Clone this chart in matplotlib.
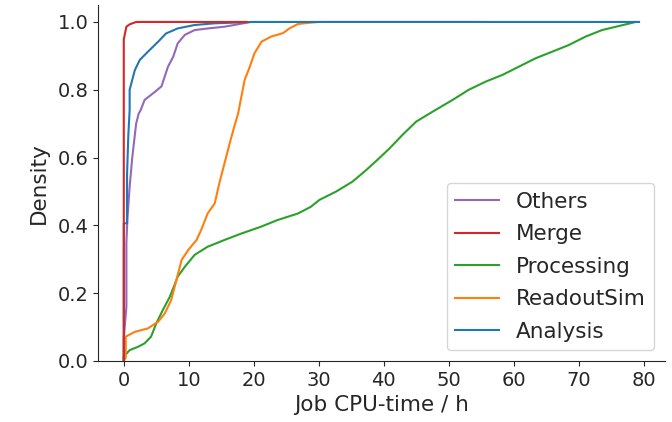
import matplotlib
matplotlib.use('Agg')
import matplotlib.pyplot as plt

# cumulative share of jobs vs. CPU time (hours), per job type
others_x = [0, 0, 0.4, 0.4, 0.56, 0.9, 1.3, 1.9, 2.3, 2.6, 3.2, 4.8, 5.8, 6.3, 6.8, 7.6, 8.3, 9.4, 10.9, 13, 15.5, 17, 19.5]
others_y = [0, 0.067, 0.16, 0.35, 0.42, 0.514, 0.6, 0.7, 0.73, 0.74, 0.77, 0.794, 0.81, 0.839, 0.868, 0.897, 0.937, 0.962, 0.976, 0.981, 0.986, 0.991, 1.0]

merge_x = [0, 0, 0.4, 0.9, 1.9, 19]
merge_y = [0, 0.949, 0.986, 0.993, 1.0, 1.0]

processing_x = [0, 0, 0.9, 2.2, 3.2, 4.2, 5, 6, 7.1, 7.8, 8.3, 9.4, 10.9, 12.9, 15.5, 18.1, 21.1, 23.7,
                26.8, 28.8, 30.1, 32.7, 35.2, 37.3, 39.3, 40.9, 42.9, 45, 47.5, 50.6, 53.1, 55.7, 58.3,
                60.8, 63.4, 65.9, 68.5, 71.1, 73.6, 76.2, 78.8]
processing_y = [0, 0.013, 0.032, 0.042, 0.052, 0.072, 0.111, 0.15, 0.19, 0.224, 0.249, 0.278, 0.313, 0.337,
                0.357, 0.376, 0.396, 0.416, 0.435, 0.455, 0.475, 0.5, 0.529, 0.563, 0.598, 0.627, 0.667,
                0.706, 0.735, 0.77, 0.8, 0.824, 0.844, 0.868, 0.893, 0.912, 0.932, 0.957, 0.976, 0.988, 1.0]

readout_x = [0, 0.3, 0.3, 1.7, 3.7, 5.3, 6.3, 7.3, 8.1, 8.9, 9.9, 11.2, 11.9, 12.9, 14, 14.7, 15.5, 16.3,
             17, 17.6, 18.1, 18.6, 19.4, 20.1, 21.2, 22.7, 24.5, 25.5, 26.8, 28.8, 30, 55]
readout_y = [0, 0.01, 0.072, 0.086, 0.096, 0.116, 0.14, 0.18, 0.239, 0.298, 0.327, 0.357, 0.386, 0.435,
             0.465, 0.524, 0.583, 0.642, 0.691, 0.73, 0.78, 0.829, 0.868, 0.907, 0.942, 0.957, 0.967,
             0.981, 0.994, 0.998, 1.0, 1.0]

analysis_x = [0, 0, 0.5, 0.5, 0.7, 0.9, 0.9, 1.7, 2.46, 3.7, 5.3, 6.5, 8.3, 10.9, 14, 20, 79.3]
analysis_y = [0, 0.406, 0.406, 0.549, 0.667, 0.74, 0.80, 0.858, 0.888, 0.912, 0.942, 0.966, 0.981, 0.991, 0.996, 1.0, 1.0]

series = [
    ('Others', others_x, others_y, '#9467bd', 2),
    ('Merge', merge_x, merge_y, '#d62728', 4),
    ('Processing', processing_x, processing_y, '#2ca02c', 2),
    ('ReadoutSim', readout_x, readout_y, '#ff7f0e', 2),
    ('Analysis', analysis_x, analysis_y, '#1f77b4', 3),
]

plt.rcParams['text.color'] = '#262626'
plt.rcParams['axes.labelcolor'] = '#262626'
plt.rcParams['xtick.color'] = '#262626'
plt.rcParams['ytick.color'] = '#262626'
plt.rcParams['axes.edgecolor'] = '#262626'

fig = plt.figure(figsize=(6.72, 4.22), dpi=100)
ax = fig.add_axes([98 / 672, 61 / 422, 567 / 672, 356 / 422])

for name, xs, ys, col, z in series:
    ax.plot(xs, ys, color=col, lw=1.5, label=name, zorder=z)

ax.set_ylim(0, 1.05)
ax.set_xlim(-3.97, 83.3)
ax.set_xticks(range(0, 81, 10))
ax.set_yticks([0, 0.2, 0.4, 0.6, 0.8, 1.0])
ax.tick_params(labelsize=14)
ax.set_xlabel('Job CPU-time / h', fontsize=15.5)
ax.set_ylabel('Density', fontsize=15.5, labelpad=6)
ax.spines['top'].set_visible(False)
ax.spines['right'].set_visible(False)

ax.legend(loc='lower right', fontsize=15.5, labelspacing=0.58)

plt.savefig('out.png', dpi=100)
